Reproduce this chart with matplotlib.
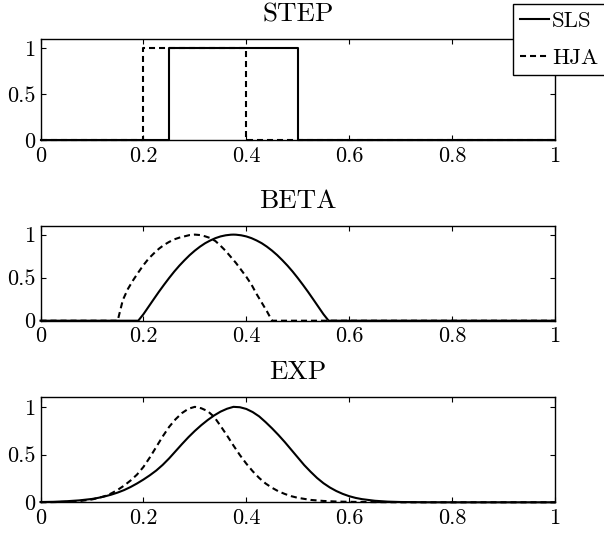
import matplotlib
matplotlib.use("Agg")
import matplotlib.pyplot as plt

plt.rcParams["font.family"] = ["cmr10", "DejaVu Serif"]
plt.rcParams["axes.formatter.use_mathtext"] = True

# ---- STEP ----
step_sls_x = [0.0, 0.25, 0.25, 0.5, 0.5, 1.0]
step_sls_y = [0, 0, 1, 1, 0, 0]
step_hja_x = [0.0, 0.2, 0.2, 0.4, 0.4, 1.0]
step_hja_y = [0, 0, 1, 1, 0, 0]

# ---- BETA ----
beta_sls_x = [0.0, 0.19, 0.20, 0.21, 0.22, 0.23, 0.24, 0.25, 0.26, 0.27, 0.28,
              0.29, 0.30, 0.31, 0.32, 0.33, 0.34, 0.35, 0.36, 0.37, 0.375,
              0.38, 0.39, 0.40, 0.41, 0.42, 0.43, 0.44, 0.45, 0.46, 0.47,
              0.48, 0.49, 0.50, 0.51, 0.52, 0.53, 0.54, 0.55, 0.56, 1.0]
beta_sls_y = [0.0, 0.0, 0.075, 0.162, 0.249, 0.335, 0.417, 0.496, 0.571,
              0.640, 0.703, 0.762, 0.814, 0.860, 0.900, 0.932, 0.959, 0.979,
              0.992, 0.999, 1.0, 0.999, 0.992, 0.979, 0.959, 0.932, 0.900,
              0.860, 0.814, 0.762, 0.703, 0.640, 0.571, 0.496, 0.417, 0.335,
              0.249, 0.162, 0.075, 0.0, 0.0]
beta_hja_x = [0.0, 0.15, 0.16, 0.17, 0.18, 0.19, 0.20, 0.21, 0.22, 0.23, 0.24,
              0.25, 0.26, 0.27, 0.28, 0.29, 0.30, 0.31, 0.32, 0.33, 0.34,
              0.35, 0.36, 0.37, 0.38, 0.39, 0.40, 0.41, 0.42, 0.43, 0.44,
              0.45, 1.0]
beta_hja_y = [0.0, 0.0, 0.24, 0.37, 0.47, 0.56, 0.645, 0.72, 0.78, 0.835,
              0.88, 0.915, 0.945, 0.965, 0.98, 0.995, 1.0, 0.995, 0.98, 0.96,
              0.925, 0.87, 0.81, 0.74, 0.67, 0.59, 0.51, 0.42, 0.31, 0.21,
              0.11, 0.0, 0.0]

# ---- EXP ----
exp_sls_x = [0.0, 0.025, 0.05, 0.075, 0.1, 0.1125, 0.125, 0.1375, 0.15,
             0.1625, 0.175, 0.1875, 0.2, 0.2125, 0.225, 0.2375, 0.25, 0.2625,
             0.275, 0.2875, 0.3, 0.3125, 0.325, 0.3375, 0.35, 0.3625, 0.375,
             0.3875, 0.4, 0.4125, 0.425, 0.4375, 0.45, 0.4625, 0.475, 0.4875,
             0.5, 0.5125, 0.525, 0.5375, 0.55, 0.5625, 0.575, 0.5875, 0.6,
             0.6125, 0.625, 0.65, 0.675, 0.7, 0.75, 0.8, 1.0]
exp_sls_y = [0.003, 0.005, 0.011, 0.020, 0.035, 0.047, 0.062, 0.080, 0.102,
             0.128, 0.160, 0.197, 0.238, 0.283, 0.333, 0.392, 0.460, 0.535,
             0.610, 0.682, 0.748, 0.808, 0.862, 0.910, 0.950, 0.980, 1.000,
             0.996, 0.978, 0.945, 0.900, 0.840, 0.775, 0.705, 0.630, 0.550,
             0.470, 0.390, 0.320, 0.255, 0.200, 0.155, 0.118, 0.088, 0.064,
             0.046, 0.033, 0.016, 0.007, 0.003, 0.0005, 0.0, 0.0]
exp_hja_x = [0.0, 0.025, 0.05, 0.075, 0.1, 0.1125, 0.125, 0.1375, 0.15,
             0.1625, 0.175, 0.1875, 0.2, 0.2125, 0.225, 0.2375, 0.25, 0.2625,
             0.275, 0.2875, 0.3, 0.3125, 0.325, 0.3375, 0.35, 0.3625, 0.375,
             0.3875, 0.4, 0.4125, 0.425, 0.4375, 0.45, 0.4625, 0.475, 0.4875,
             0.5, 0.525, 0.55, 0.575, 0.6, 0.65, 0.7, 1.0]
exp_hja_y = [0.0, 0.002, 0.005, 0.012, 0.030, 0.045, 0.065, 0.093, 0.130,
             0.175, 0.228, 0.290, 0.370, 0.470, 0.580, 0.690, 0.790, 0.870,
             0.935, 0.980, 1.000, 0.985, 0.955, 0.895, 0.800, 0.700, 0.595,
             0.495, 0.405, 0.325, 0.255, 0.197, 0.152, 0.115, 0.087, 0.064,
             0.047, 0.025, 0.014, 0.008, 0.005, 0.002, 0.0, 0.0]

titles = ["STEP", "BETA", "EXP"]
series = [
    (step_sls_x, step_sls_y, step_hja_x, step_hja_y),
    (beta_sls_x, beta_sls_y, beta_hja_x, beta_hja_y),
    (exp_sls_x, exp_sls_y, exp_hja_x, exp_hja_y),
]
labels = ["SLS", "HJA"]
xticks = [0, 0.2, 0.4, 0.6, 0.8, 1]
xtick_labels = ["0", "0.2", "0.4", "0.6", "0.8", "1"]
yticks = [0, 0.5, 1]
ytick_labels = ["0", "0.5", "1"]

W, H = 604, 533
fig = plt.figure(figsize=(W / 100, H / 100), dpi=100)

# axes boxes in pixels: (left, top, right, bottom)
boxes = [(40.5, 39.3, 555, 140.0),
         (40.5, 226.0, 555, 320.7),
         (40.5, 397.3, 555, 502.3)]

dash = (0, (2.9, 1.9))
lw = 1.5
handles = None
for box, title, (sx, sy, hx, hy) in zip(boxes, titles, series):
    l, t, r, b = box
    ax = fig.add_axes([l / W, (H - b) / H, (r - l) / W, (b - t) / H])
    h2, = ax.plot(hx, hy, color="black", lw=lw, linestyle=dash, clip_on=False)
    h1, = ax.plot(sx, sy, color="black", lw=lw, linestyle="-", clip_on=False)
    if handles is None:
        handles = [h1, h2]
    ax.set_xlim(0, 1)
    ax.set_ylim(0, 1.1)
    ax.set_xticks(xticks, xtick_labels)
    ax.set_yticks(yticks, ytick_labels)
    ax.tick_params(direction="in", length=3.5, width=0.8, top=True,
                   right=True, labelsize=16, colors="black")
    ax.tick_params(axis="x", pad=4.5)
    ax.tick_params(axis="y", pad=3.5)
    for sp in ax.spines.values():
        sp.set_linewidth(1.0)
        sp.set_color("black")
    ax.set_title(title, fontsize=19.5, pad=13)

leg = fig.legend(handles, labels, loc="upper left",
                 bbox_to_anchor=(513 / W, 1 - 4 / H), borderaxespad=0,
                 fontsize=16.5, frameon=True, fancybox=False, framealpha=1,
                 edgecolor="black", handlelength=1.25, handletextpad=0.15,
                 borderpad=0.3, labelspacing=0.75)
leg.get_frame().set_linewidth(1.0)

fig.savefig("out.png", dpi=100)
